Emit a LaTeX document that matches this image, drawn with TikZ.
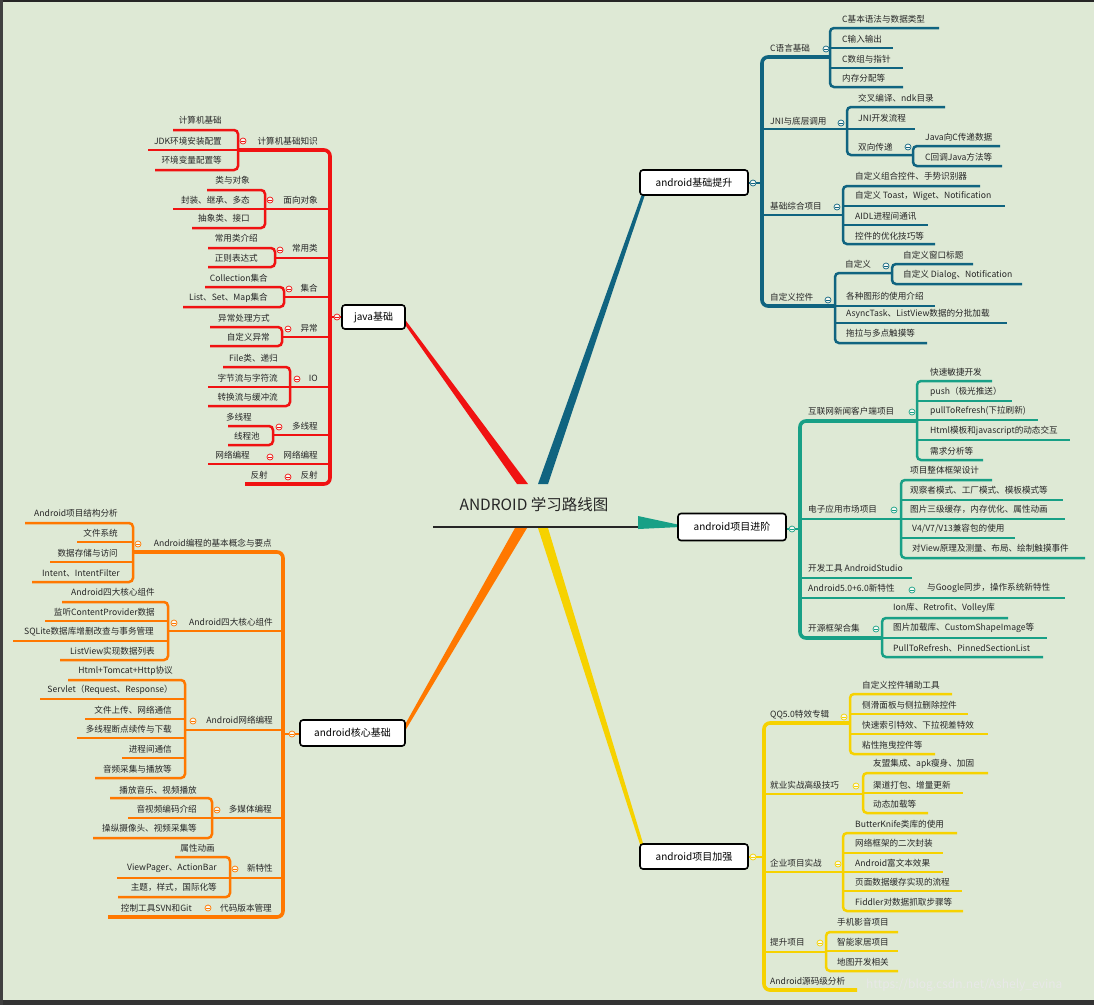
\documentclass[tikz,border=0pt]{standalone}
\usepackage{fontspec}
\setmainfont{Noto Sans CJK SC}
\definecolor{bgc}{RGB}{222,233,213}
\definecolor{cred}{RGB}{240,18,18}
\definecolor{cblue}{RGB}{16,100,128}
\definecolor{cteal}{RGB}{24,160,134}
\definecolor{corange}{RGB}{255,120,0}
\definecolor{cyellow}{RGB}{246,210,0}
\newcount\mmcnt
\newcommand\mmE[3]{\global\advance\mmcnt by 1\relax\edef\mmname{n\the\mmcnt}\node[mmtxt,anchor=east] (\mmname) at (#1,#2) {#3};}
\newcommand\mmW[3]{\global\advance\mmcnt by 1\relax\edef\mmname{n\the\mmcnt}\node[mmtxt,anchor=west] (\mmname) at (#1,#2) {#3};}
\newcommand\mmC[3]{\draw[#1,line width=0.7pt,fill=white!75!bgc] (#2,#3) circle (3pt); \draw[#1,line width=0.6pt] ({#2-1.6},#3) -- ({#2+1.6},#3);}
\begin{document}
\begin{tikzpicture}[x=1pt,y=-1pt,
  mmtxt/.style={inner sep=0pt, font=\fontsize{8.6pt}{10pt}\selectfont, text=black!85},
  spn/.style={line width=3.6pt, rounded corners=6pt},
  lf/.style={line width=2.5pt, rounded corners=4pt},
  mbox/.style={draw=black, line width=1.6pt, fill=white, rounded corners=3pt, inner sep=0pt, font=\fontsize{10pt}{12pt}\selectfont}]
\useasboundingbox (0,0) rectangle (1094,1005);
\fill[bgc] (0,0) rectangle (1094,1005);
\fill[black!85] (0,0) rectangle (1094,2);
\fill[black!80] (0,1000) rectangle (1094,1005);
\fill[black!75] (0,0) rectangle (2.5,1005);

% main branches
\fill[cred] (517,484)--(528,484)--(406.2,321.1)--(403.8,322.9)--cycle;
\fill[cblue] (538,484)--(548,484)--(646.4,190.5)--(643.6,189.5)--cycle;
\fill[cteal] (638,516)--(638,529)--(680,527)--(680,525)--cycle;
\fill[corange] (515,528)--(527,528)--(403.3,733.75)--(400.7,732.25)--cycle;
\fill[cyellow] (538,528)--(548,528)--(646.4,854.5)--(643.6,855.5)--cycle;

% ---------- java (red)
\begin{scope}[cred]
\draw[spn] (238,150)--(330,150)--(330,484)--(245,484);
\draw[lf] (173,130)--(238,130)--(238,170)--(155,170);
\draw[lf] (148,150)--(238,150);
\draw[lf] (207,190)--(265,190)--(265,228)--(192,228);
\draw[lf] (173,209)--(330,209);
\draw[lf] (208,248)--(275,248)--(275,267)--(208,267);
\draw[lf] (275,258)--(330,258);
\draw[lf] (205,287)--(284,287)--(284,307)--(183,307);
\draw[lf] (284,297)--(330,297);
\draw[lf] (210,327)--(282,327)--(282,346)--(210,346);
\draw[lf] (282,337)--(330,337);
\draw[lf] (223,367)--(290,367)--(290,406)--(208,406);
\draw[lf] (208,387)--(330,387);
\draw[lf] (228,426)--(273,426)--(273,445)--(228,445);
\draw[lf] (273,435)--(330,435);
\draw[lf] (208,464)--(330,464);
\draw[lf] (330,317)--(342,317);
\end{scope}

% ---------- blue
\begin{scope}[cblue]
\draw[spn] (830,57)--(762,57)--(762,306)--(835,306);
\draw[lf] (939,28)--(830,28)--(830,87)--(903,87);
\draw[lf] (830,48)--(893,48);
\draw[lf] (830,68)--(903,68);
\draw[lf] (762,129)--(847,129);
\draw[lf] (945,107)--(847,107)--(847,155)--(913,155);
\draw[lf] (847,129)--(915,129);
\draw[lf] (1000,146)--(913,146)--(913,166)--(1002,166);
\draw[lf] (762,215)--(843,215);
\draw[lf] (980,186)--(843,186)--(843,244)--(935,244);
\draw[lf] (843,206)--(1005,206);
\draw[lf] (843,225)--(928,225);
\draw[lf] (892,273)--(835,273)--(835,343)--(927,343);
\draw[lf] (835,306)--(935,306);
\draw[lf] (835,323)--(1007,323);
\draw[lf] (973,264)--(892,264)--(892,284)--(1022,284);
\draw[lf] (748,183)--(762,183);
\end{scope}

% ---------- teal
\begin{scope}[cteal]
\draw[spn] (917,421)--(800,421)--(800,638)--(882,638);
\draw[lf] (992,381)--(917,381)--(917,460)--(983,460);
\draw[lf] (917,401)--(1012,401);
\draw[lf] (917,420)--(1038,420);
\draw[lf] (917,440)--(1070,440);
\draw[lf] (800,519)--(901,519);
\draw[lf] (992,480)--(901,480)--(901,558)--(1085,558);
\draw[lf] (901,500)--(1063,500);
\draw[lf] (901,519)--(1065,519);
\draw[lf] (901,538)--(1015,538);
\draw[lf] (800,578)--(912,578);
\draw[lf] (800,598)--(1065,598);
\draw[lf] (1008,618)--(882,618)--(882,657)--(1043,657);
\draw[lf] (882,638)--(1047,638);
\draw[lf] (786,529)--(800,529);
\end{scope}

% ---------- orange
\begin{scope}[corange]
\draw[spn] (133,552)--(283,552)--(283,917)--(108,917);
\draw[lf] (25,523)--(133,523)--(133,582)--(32,582);
\draw[lf] (77,542)--(133,542);
\draw[lf] (50,562)--(133,562);
\draw[lf] (168,631)--(283,631);
\draw[lf] (62,602)--(168,602)--(168,660)--(60,660);
\draw[lf] (45,621)--(168,621);
\draw[lf] (13,641)--(168,641);
\draw[lf] (185,730)--(283,730);
\draw[lf] (68,680)--(185,680)--(185,778)--(95,778);
\draw[lf] (40,699)--(185,699);
\draw[lf] (85,719)--(185,719);
\draw[lf] (77,738)--(185,738);
\draw[lf] (122,758)--(185,758);
\draw[lf] (212,818)--(283,818);
\draw[lf] (110,798)--(212,798)--(212,838)--(93,838);
\draw[lf] (128,818)--(212,818);
\draw[lf] (230,878)--(283,878);
\draw[lf] (175,857)--(230,857)--(230,897)--(118,897);
\draw[lf] (117,878)--(230,878);
\draw[lf] (283,734)--(300,734);
\end{scope}

% ---------- yellow
\begin{scope}[cyellow]
\draw[spn] (850,723)--(764,723)--(764,990)--(857,990);
\draw[lf] (952,694)--(850,694)--(850,754)--(935,754);
\draw[lf] (850,714)--(968,714);
\draw[lf] (850,734)--(988,734);
\draw[lf] (764,794)--(863,794);
\draw[lf] (988,773)--(863,773)--(863,813)--(928,813);
\draw[lf] (863,793)--(963,793);
\draw[lf] (764,872)--(843,872);
\draw[lf] (957,833)--(843,833)--(843,911)--(963,911);
\draw[lf] (843,853)--(943,853);
\draw[lf] (843,872)--(943,872);
\draw[lf] (843,891)--(962,891);
\draw[lf] (764,952)--(826,952);
\draw[lf] (898,932)--(826,932)--(826,971)--(898,971);
\draw[lf] (826,951)--(898,951);
\draw[lf] (748,857)--(764,857);
\end{scope}

% title
\node[font=\fontsize{15.5pt}{18pt}\selectfont, inner sep=0pt, text=black!85] (title) at (534,505) {ANDROID 学习路线图};
\draw[line width=2pt, black!85] (433,527)--(638,527);

% boxes
\node[mbox, minimum width=63pt, minimum height=24pt] (bjava) at (373.5,317) {java基础};
\node[mbox, minimum width=108pt, minimum height=25pt] (bjc) at (694,182.5) {android基础提升};
\node[mbox, minimum width=108pt, minimum height=27pt] (bjj) at (732,527) {android项目进阶};
\node[mbox, minimum width=105pt, minimum height=26pt] (bhx) at (352.5,733) {android核心基础};
\node[mbox, minimum width=108pt, minimum height=25pt] (bjq) at (694,856.5) {android项目加强};

% circles
\mmC{cred}{243}{141}\mmC{cred}{270}{200}\mmC{cred}{280}{250}\mmC{cred}{289}{289}
\mmC{cred}{288}{329}\mmC{cred}{297}{379}\mmC{cred}{279}{427}\mmC{cred}{270}{457}
\mmC{cred}{288}{477}\mmC{cred}{337}{317}
\mmC{cblue}{826}{49}\mmC{cblue}{841}{123}\mmC{cblue}{908}{147}\mmC{cblue}{837}{207}
\mmC{cblue}{828}{300}\mmC{cblue}{886}{266}\mmC{cblue}{753}{183}
\mmC{cteal}{912}{412}\mmC{cteal}{894}{510}\mmC{cteal}{912}{590}\mmC{cteal}{876}{629}
\mmC{cteal}{792}{529}
\mmC{corange}{138}{544}\mmC{corange}{174}{623}\mmC{corange}{193}{721}\mmC{corange}{217}{810}
\mmC{corange}{235}{869}\mmC{corange}{208}{908}\mmC{corange}{292}{734}
\mmC{cyellow}{844}{717}\mmC{cyellow}{856}{786}\mmC{cyellow}{838}{864}\mmC{cyellow}{820}{943}
\mmC{cyellow}{753}{857}

% ---- java texts
\mmE{222}{120}{计算机基础}
\mmE{222}{141}{JDK环境安装配置}
\mmE{222}{160}{环境变量配置等}
\mmE{318}{141}{计算机基础知识}
\mmE{250}{180}{类与对象}
\mmE{250}{200}{封装、继承、多态}
\mmE{250}{218}{抽象类、接口}
\mmE{318}{200}{面向对象}
\mmE{258}{238}{常用类介绍}
\mmE{258}{258}{正则表达式}
\mmE{318}{248}{常用类}
\mmE{268}{278}{Collection集合}
\mmE{268}{298}{List、Set、Map集合}
\mmE{318}{288}{集合}
\mmE{270}{318}{异常处理方式}
\mmE{270}{337}{自定义异常}
\mmE{318}{328}{异常}
\mmE{278}{358}{File类、递归}
\mmE{278}{378}{字节流与字符流}
\mmE{278}{397}{转换流与缓冲流}
\mmE{318}{378}{IO}
\mmE{252}{417}{多线程}
\mmE{260}{436}{线程池}
\mmE{318}{426}{多线程}
\mmE{250}{455}{网络编程}
\mmE{318}{455}{网络编程}
\mmE{268}{475}{反射}
\mmE{318}{475}{反射}

% ---- blue texts
\mmW{842}{19}{C基本语法与数据类型}
\mmW{842}{39}{C输入输出}
\mmW{842}{59}{C数组与指针}
\mmW{842}{78}{内存分配等}
\mmW{770}{48}{C语言基础}
\mmW{858}{98}{交叉编译、ndk目录}
\mmW{858}{118}{JNI开发流程}
\mmW{858}{147}{双向传递}
\mmW{925}{137}{Java向C传递数据}
\mmW{925}{157}{C回调Java方法等}
\mmW{770}{121}{JNI与底层调用}
\mmW{855}{176}{自定义组合控件、手势识别器}
\mmW{855}{196}{自定义 Toast，Wiget、Notification}
\mmW{855}{216}{AIDL进程间通讯}
\mmW{855}{236}{控件的优化技巧等}
\mmW{770}{206}{基础综合项目}
\mmW{845}{264}{自定义}
\mmW{903}{255}{自定义窗口标题}
\mmW{903}{275}{自定义 Dialog、Notification}
\mmW{846}{296}{各种图形的使用介绍}
\mmW{846}{314}{AsyncTask、ListView数据的分批加载}
\mmW{846}{333}{拖拉与多点触摸等}
\mmW{770}{297}{自定义控件}

% ---- teal texts
\mmW{930}{372}{快速敏捷开发}
\mmW{930}{392}{push（极光推送）}
\mmW{930}{411}{pullToRefresh(下拉刷新)}
\mmW{930}{431}{Html模板和javascript的动态交互}
\mmW{930}{451}{需求分析等}
\mmW{808}{411}{互联网新闻客户端项目}
\mmW{910}{470}{项目整体框架设计}
\mmW{910}{490}{观察者模式、工厂模式、模板模式等}
\mmW{910}{509}{图片三级缓存，内存优化、属性动画}
\mmW{912}{529}{V4/V7/V13兼容包的使用}
\mmW{912}{548}{对View原理及测量、布局、绘制触摸事件}
\mmW{808}{509}{电子应用市场项目}
\mmW{808}{568}{开发工具 AndroidStudio}
\mmW{808}{588}{Android5.0+6.0新特性}
\mmW{927}{588}{与Google同步，操作系统新特性}
\mmW{893}{608}{Ion库、Retrofit、Volley库}
\mmW{893}{628}{图片加载库、CustomShapeImage等}
\mmW{893}{648}{PullToRefresh、PinnedSectionList}
\mmW{808}{628}{开源框架合集}

% ---- orange texts
\mmE{118}{513}{Android项目结构分析}
\mmE{118}{533}{文件系统}
\mmE{118}{553}{数据存储与访问}
\mmE{120}{573}{Intent、IntentFilter}
\mmE{272}{543}{Android编程的基本概念与要点}
\mmE{155}{592}{Android四大核心组件}
\mmE{155}{612}{监听ContentProvider数据}
\mmE{154}{632}{SQLite数据库增删改查与事务管理}
\mmE{155}{651}{ListView实现数据列表}
\mmE{273}{622}{Android四大核心组件}
\mmE{173}{671}{Html+Tomcat+Http协议}
\mmE{173}{690}{Servlet（Request、Response）}
\mmE{172}{710}{文件上传、网络通信}
\mmE{172}{729}{多线程断点续传与下载}
\mmE{172}{749}{进程间通信}
\mmE{172}{769}{音频采集与播放等}
\mmE{273}{720}{Android网络编程}
\mmE{197}{790}{播放音乐、视频播放}
\mmE{197}{809}{音视频编码介绍}
\mmE{197}{828}{操纵摄像头、视频采集等}
\mmE{272}{809}{多媒体编程}
\mmE{215}{848}{属性动画}
\mmE{217}{868}{ViewPager、ActionBar}
\mmE{217}{887}{主题，样式，国际化等}
\mmE{273}{868}{新特性}
\mmE{192}{908}{控制工具SVN和Git}
\mmE{272}{908}{代码版本管理}

% ---- yellow texts
\mmW{862}{685}{自定义控件辅助工具}
\mmW{862}{705}{侧滑面板与侧拉删除控件}
\mmW{862}{725}{快速索引特效、下拉视差特效}
\mmW{862}{745}{粘性拖曳控件等}
\mmW{770}{715}{QQ5.0特效专辑}
\mmW{873}{764}{友盟集成、apk瘦身、加固}
\mmW{873}{785}{渠道打包、增量更新}
\mmW{873}{804}{动态加载等}
\mmW{770}{785}{就业实战高级技巧}
\mmW{855}{824}{ButterKnife类库的使用}
\mmW{855}{843}{网络框架的二次封装}
\mmW{855}{863}{Android富文本效果}
\mmW{855}{882}{页面数据缓存实现的流程}
\mmW{855}{902}{Fiddler对数据抓取步骤等}
\mmW{770}{863}{企业项目实战}
\mmW{837}{922}{手机影音项目}
\mmW{837}{942}{智能家居项目}
\mmW{837}{962}{地图开发相关}
\mmW{770}{942}{提升项目}
\mmW{770}{981}{Android源码级分析}

\node[font=\fontsize{12pt}{14pt}\selectfont, text=white!82!gray, anchor=west, inner sep=0pt] (wm) at (866,985) {https://blog.csdn.net/Ashely\_evina};
\end{tikzpicture}
\end{document}
